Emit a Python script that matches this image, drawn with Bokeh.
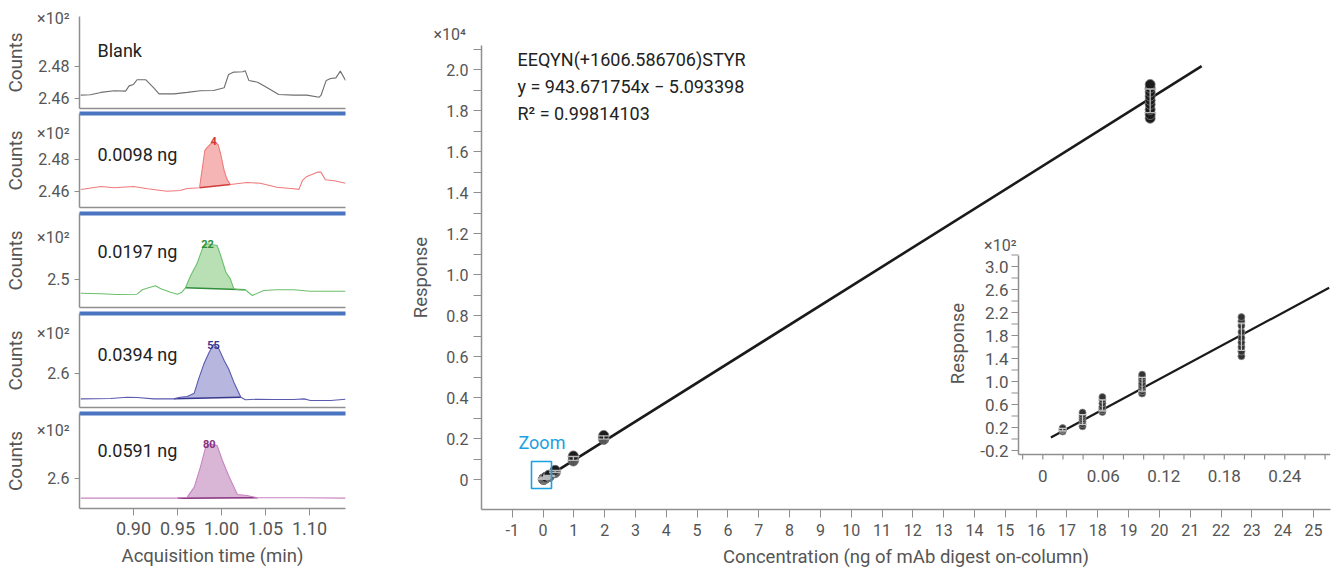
import numpy as np
from bokeh.plotting import figure
from bokeh.models import Range1d, FixedTicker, Label, LinearAxis, BoxAnnotation, Title
from bokeh.layouts import row, column
from bokeh.embed import file_html
from bokeh.resources import INLINE
from bokeh.core.properties import value

FONT = "Roboto"
TXT = "#222222"
GREYTXT = "#555555"
AXC = "#8f8f8f"

# ---------------- chromatogram data (Counts, x10^2) ----------------
time_ticks = [0.90, 0.95, 1.00, 1.05, 1.10]
time_tick_labels = ["0.90", "0.95", "1.00", "1.05", "1.10"]

blank_t = [0.840, 0.851, 0.863, 0.878, 0.891, 0.895, 0.900, 0.904, 0.914, 0.923, 0.929, 0.946, 0.961,
           0.976, 0.991, 1.003, 1.008, 1.014, 1.024, 1.027, 1.031, 1.041, 1.052, 1.065, 1.082, 1.097,
           1.111, 1.113, 1.119, 1.124, 1.130, 1.135, 1.141]
blank_v = [2.4621, 2.4623, 2.4638, 2.4648, 2.4646, 2.4679, 2.4688, 2.4717, 2.4717, 2.4667, 2.4629,
           2.4629, 2.4638, 2.4648, 2.4650, 2.4667, 2.4750, 2.4765, 2.4767, 2.4773, 2.4713, 2.4702,
           2.4667, 2.4625, 2.4621, 2.4621, 2.4608, 2.4619, 2.4713, 2.4725, 2.4729, 2.4771, 2.4713]

ng0098_t = [0.840, 0.863, 0.878, 0.900, 0.916, 0.938, 0.953, 0.961, 0.975, 0.981, 0.984, 0.991, 0.996,
            0.999, 1.003, 1.006, 1.010, 1.029, 1.044, 1.063, 1.082, 1.088, 1.092, 1.097, 1.109, 1.113,
            1.118, 1.128, 1.141]
ng0098_v = [2.4613, 2.4631, 2.4623, 2.4631, 2.4617, 2.4602, 2.4606, 2.4619, 2.4623, 2.4856, 2.4877,
            2.4914, 2.4894, 2.4836, 2.4731, 2.4679, 2.4644, 2.4656, 2.4652, 2.4627, 2.4617, 2.4613,
            2.4669, 2.4694, 2.4721, 2.4721, 2.4673, 2.4667, 2.4652]

ng0197_t = [0.840, 0.863, 0.881, 0.904, 0.910, 0.917, 0.925, 0.931, 0.942, 0.950, 0.955, 0.959, 0.965,
            0.972, 0.979, 0.984, 0.995, 0.999, 1.005, 1.010, 1.014, 1.020, 1.027, 1.035, 1.048, 1.063,
            1.082, 1.101, 1.120, 1.141]
ng0197_v = [2.4817, 2.4809, 2.4800, 2.4804, 2.4863, 2.4889, 2.4916, 2.4876, 2.4831, 2.4804, 2.4831,
            2.4889, 2.5053, 2.5209, 2.5431, 2.5476, 2.5453, 2.5320, 2.5097, 2.5009, 2.4876, 2.4863,
            2.4863, 2.4787, 2.4853, 2.4863, 2.4863, 2.4844, 2.4844, 2.4844]

ng0394_t = [0.840, 0.874, 0.893, 0.904, 0.923, 0.946, 0.953, 0.961, 0.969, 0.974, 0.980, 0.986, 0.991,
            0.997, 1.003, 1.008, 1.014, 1.022, 1.027, 1.041, 1.059, 1.082, 1.094, 1.101, 1.124, 1.141]
ng0394_v = [2.5610, 2.5615, 2.5635, 2.5631, 2.5610, 2.5610, 2.5635, 2.5646, 2.5697, 2.5918, 2.6149,
            2.6328, 2.6446, 2.6379, 2.6200, 2.6072, 2.5867, 2.5635, 2.5595, 2.5605, 2.5600, 2.5600,
            2.5610, 2.5585, 2.5585, 2.5605]

ng0591_t = [0.840, 0.900, 0.950, 0.961, 0.969, 0.976, 0.982, 0.986, 0.995, 1.001, 1.008, 1.018, 1.029,
            1.041, 1.052, 1.090, 1.141]
ng0591_v = [2.5719, 2.5719, 2.5719, 2.5733, 2.5876, 2.6162, 2.6448, 2.6495, 2.6471, 2.6257, 2.6043,
            2.5771, 2.5757, 2.5724, 2.5724, 2.5724, 2.5719]

panel_names = ["Blank", "0.0098 ng", "0.0197 ng", "0.0394 ng", "0.0591 ng"]
peak_windows = [None, (0.975, 1.010), (0.959, 1.027), (0.946, 1.022), (0.950, 1.041)]
peak_labels = [None, "4", "22", "55", "80"]
count_ticks = [[2.46, 2.48], [2.46, 2.48], [2.5], [2.6], [2.6]]
count_tick_labels = [["2.46", "2.48"], ["2.46", "2.48"], ["2.5"], ["2.6"], ["2.6"]]
scale_label_small = "\u00d710\u00b2"
scale_label_main = "\u00d710\u2074"

# ---------------- calibration data ----------------
conc_levels = [0.0197, 0.0394, 0.0591, 0.0985, 0.197, 0.394, 0.985, 1.97, 19.7]
resp_0p0197 = [13, 15, 16, 17, 18, 19]
resp_0p0394 = [22, 26, 30, 34, 38, 42, 46]
resp_0p0591 = [47, 50, 53, 56, 62, 68, 73]
resp_0p0985 = [79, 83, 87, 92, 97, 103, 108, 112]
resp_0p197 = [144, 152, 160, 168, 176, 186, 197, 205, 212]
resp_0p394 = [330, 360, 390, 420, 450]
resp_0p985 = [900, 950, 1000, 1050, 1100, 1150]
resp_1p97 = [1950, 2000, 2050, 2100, 2150]
resp_19p7 = [17620, 17800, 18050, 18300, 18500, 18700, 18900, 19100, 19270]
resp_all = [resp_0p0197, resp_0p0394, resp_0p0591, resp_0p0985, resp_0p197,
            resp_0p394, resp_0p985, resp_1p97, resp_19p7]
n_inset_levels = 5

slope = 943.671754
intercept = -5.093398
fit_x_main = [0.008, 21.37]
fit_x_inset = [0.008, 0.284]

conc_axis_ticks = list(range(-1, 26))
conc_axis_labels = [str(v) for v in conc_axis_ticks]
resp_axis_ticks = [0, 2000, 4000, 6000, 8000, 10000, 12000, 14000, 16000, 18000, 20000]
resp_axis_labels = ["0", "0.2", "0.4", "0.6", "0.8", "1.0", "1.2", "1.4", "1.6", "1.8", "2.0"]
resp_axis_minor = [1000, 3000, 5000, 7000, 9000, 11000, 13000, 15000, 17000, 19000, 21000]

inset_x_ticks = [-0.02, 0.0, 0.02, 0.04, 0.06, 0.08, 0.10, 0.12, 0.14, 0.16, 0.18, 0.20, 0.22, 0.24, 0.26, 0.28]
inset_x_label_vals = [0.0, 0.06, 0.12, 0.18, 0.24]
inset_x_labels = ["0", "0.06", "0.12", "0.18", "0.24"]
inset_y_ticks = [-20, 0, 20, 40, 60, 80, 100, 120, 140, 160, 180, 200, 220, 240, 260, 280, 300, 320]
inset_y_label_vals = [-20, 20, 60, 100, 140, 180, 220, 260, 300]
inset_y_labels = ["-0.2", "0.2", "0.6", "1.0", "1.4", "1.8", "2.2", "2.6", "3.0"]

annot_lines = ["EEQYN(+1606.586706)STYR", "y = 943.671754x \u2212 5.093398", "R\u00b2 = 0.99814103"]

# ---------------- left panels (geometry in page pixels) ----------------
T0, T1 = 0.8386, 1.1409
PANEL_GEOM = [
    dict(top=0, bot=110, ftop=16, fbot=108, ref=2.46, ref_px=98, ppu=1600, x10=18, name=50),
    dict(top=110, bot=210, ftop=113, fbot=207, ref=2.46, ref_px=191, ppu=1600, x10=133, name=154),
    dict(top=210, bot=310, ftop=213, fbot=307, ref=2.5, ref_px=279, ppu=750, x10=237, name=251),
    dict(top=310, bot=410, ftop=313, fbot=407, ref=2.6, ref_px=373, ppu=650, x10=333, name=354),
    dict(top=410, bot=575, ftop=413, fbot=508, ref=2.6, ref_px=478, ppu=700, x10=430, name=450),
]
traces = [(blank_t, blank_v), (ng0098_t, ng0098_v), (ng0197_t, ng0197_v),
          (ng0394_t, ng0394_v), (ng0591_t, ng0591_v)]
line_colors = ["#6e6e6e", "#f07a7a", "#6cc06c", "#5a5ab0", "#c884c0"]
fill_colors = [None, "#f5b5b5", "#b9dfb5", "#b6b6de", "#dab6d6"]
base_colors = [None, "#d23a3a", "#2f8f3a", "#36368f", "#86307e"]
name_x = T0 + 18 / 880.0


def style_axis(ax, size="16px"):
    ax.axis_line_color = AXC
    ax.axis_line_width = 1.5
    ax.major_tick_line_color = AXC
    ax.minor_tick_line_color = AXC
    ax.major_tick_in = 0
    ax.minor_tick_in = 0
    ax.major_label_text_font = FONT
    ax.major_label_text_font_size = size
    ax.major_label_text_color = GREYTXT
    ax.axis_label_text_font = FONT
    ax.axis_label_text_font_style = "normal"
    ax.axis_label_text_color = GREYTXT


panels = []
for i in range(5):
    g = PANEL_GEOM[i]

    def pv(py, g=g):
        return g["ref"] + (g["ref_px"] - py) / g["ppu"]

    y0, y1 = pv(g["fbot"]), pv(g["ftop"])
    p = figure(width=385, height=g["bot"] - g["top"], x_range=Range1d(T0, T1), y_range=Range1d(y0, y1),
               min_border_left=79, min_border_right=40,
               min_border_top=g["ftop"] - g["top"], min_border_bottom=g["bot"] - g["fbot"],
               output_backend="svg", toolbar_location=None)
    p.grid.visible = False
    p.outline_line_color = None
    t = np.array(traces[i][0])
    v = np.array(traces[i][1])
    if peak_windows[i] is not None:
        a, b = peak_windows[i]
        m = (t >= a - 1e-9) & (t <= b + 1e-9)
        p.patch(t[m], v[m], fill_color=fill_colors[i], line_color=None)
        p.segment(x0=[t[m][0]], y0=[v[m][0]], x1=[t[m][-1]], y1=[v[m][-1]],
                  line_color=base_colors[i], line_width=1.5)
        k = int(np.argmax(v[m]))
        p.add_layout(Label(x=t[m][k], y=v[m][k], text=peak_labels[i], text_align="center",
                           text_baseline="middle", text_font=FONT, text_font_size="11px",
                           text_font_style="bold", text_color=base_colors[i]))
    p.line(t, v, line_color=line_colors[i], line_width=1.1)

    # y axis: real ticks drawn as minor ticks, plus a label-only tick carrying the x10^2 factor
    yax = p.yaxis[0]
    style_axis(yax, "16px")
    x10_val = round(pv(g["x10"]), 5)
    yax.ticker = FixedTicker(ticks=count_ticks[i] + [x10_val], minor_ticks=count_ticks[i])
    ov = {tk: lb for tk, lb in zip(count_ticks[i], count_tick_labels[i])}
    ov[x10_val] = scale_label_small
    yax.major_label_overrides = ov
    yax.major_tick_out = 0
    yax.minor_tick_out = 5
    yax.major_label_standoff = 5
    yax.axis_label = "Counts"
    yax.axis_label_text_font_size = "19px"
    yax.axis_label_standoff = 7

    xax = p.xaxis[0]
    style_axis(xax, "18px")
    if i < 4:
        xax.ticker = FixedTicker(ticks=[])
        xax.major_tick_out = 0
        xax.minor_tick_out = 0
        xax.major_label_text_font_size = "0px"
    else:
        xax.ticker = FixedTicker(ticks=time_ticks)
        xax.major_label_overrides = {tk: lb for tk, lb in zip(time_ticks, time_tick_labels)}
        xax.major_tick_out = 7
        xax.minor_tick_out = 0
        xax.major_label_standoff = 6
        xax.axis_label = "Acquisition time (min)"
        xax.axis_label_text_font_size = "18.5px"
        xax.axis_label_standoff = 7
    if i > 0:
        sep = LinearAxis(ticker=FixedTicker(ticks=[]), axis_line_color="#4a74c0", axis_line_width=4,
                         major_tick_out=0, major_tick_in=0, minor_tick_out=0, minor_tick_in=0,
                         major_label_text_font_size="0px")
        p.add_layout(sep, "above")

    p.add_layout(Label(x=name_x, y=pv(g["name"]), text=panel_names[i], text_align="left",
                       text_baseline="middle", text_font=FONT, text_font_size="18px", text_color=TXT))
    panels.append(p)

left = column(*panels)

# ---------------- main calibration plot (geometry in page pixels) ----------------
def mx(px):
    return -1 + (px - 511.7) / 30.82

def my(py):
    return (479 - py) / 0.0205

def ix(px):
    return (px - 1042.3) / 1008.3

def iy(py):
    return (438.5 - py) / 0.575

FL, FR, FT, FB = 481, 1330, 45, 509
main = figure(width=952, height=575, x_range=Range1d(mx(FL), mx(FR)), y_range=Range1d(my(FB), my(FT)),
              min_border_left=96, min_border_right=7, min_border_top=45, min_border_bottom=66,
              output_backend="svg", toolbar_location=None)
main.extra_x_ranges = {"ix": Range1d(ix(FL), ix(FR))}
main.extra_y_ranges = {"iy": Range1d(iy(FB), iy(FT))}
main.grid.visible = False
main.outline_line_color = None

main.add_layout(Title(text=scale_label_main, align="left", offset=-48, standoff=3,
                      text_font=FONT, text_font_size="16px", text_font_style="normal",
                      text_color=GREYTXT), "above")

xa = main.xaxis[0]
style_axis(xa, "16px")
xa.ticker = FixedTicker(ticks=conc_axis_ticks)
xa.major_label_overrides = {tk: lb for tk, lb in zip(conc_axis_ticks, conc_axis_labels)}
xa.major_tick_out = 8
xa.minor_tick_out = 0
xa.major_label_standoff = 6
xa.axis_label = "Concentration (ng of mAb digest on-column)"
xa.axis_label_text_font_size = "18.5px"
xa.axis_label_standoff = 7

ya = main.yaxis[0]
style_axis(ya, "16px")
ya.ticker = FixedTicker(ticks=resp_axis_ticks, minor_ticks=resp_axis_minor)
ya.major_label_overrides = {tk: lb for tk, lb in zip(resp_axis_ticks, resp_axis_labels)}
ya.major_tick_out = 8
ya.minor_tick_out = 8
ya.major_label_standoff = 5
ya.axis_label = "Response"
ya.axis_label_text_font_size = "18.5px"
ya.axis_label_standoff = 11

# fit line
main.line(fit_x_main, [slope * x + intercept for x in fit_x_main], line_color="#1a1a1a", line_width=2.6)

# replicate points with mean +/- sd bars
xs, ys = [], []
for c, r in zip(conc_levels, resp_all):
    xs += [c] * len(r)
    ys += r
means = np.array([np.mean(r) for r in resp_all])
sds = np.array([np.std(r, ddof=1) for r in resp_all])
lo = means - sds
hi = means + sds

main.scatter(xs, ys, size=10, fill_color="#1c1c1c", line_color="#7a7a7a", line_width=0.8)
main.segment(conc_levels, lo, conc_levels, hi, line_color="#b8b8b8", line_width=1.4)
main.scatter(conc_levels, lo, marker="dash", size=12, line_color="#b8b8b8", line_width=1.4)
main.scatter(conc_levels, hi, marker="dash", size=12, line_color="#b8b8b8", line_width=1.4)

# zoom box
main.add_layout(BoxAnnotation(left=mx(531), right=mx(551), bottom=my(488), top=my(461),
                              fill_alpha=0, fill_color=None, line_color="#1ba1e2", line_alpha=1.0,
                              line_width=1.6))
main.text(x=[mx(518)], y=[my(442)], text=["Zoom"], text_align="left", text_baseline="middle",
          text_font=value(FONT), text_font_size="18px", text_color="#1ba1e2")

# equation text
main.text(x=[mx(517)] * 3, y=[my(59), my(86), my(113)], text=annot_lines, text_align="left",
          text_baseline="middle", text_font=value(FONT), text_font_size="18px", text_color=TXT)

# ---------------- inset (drawn with extra ranges) ----------------
IR = dict(x_range_name="ix", y_range_name="iy")
IX_LO, IX_HI = ix(1018), ix(1330)
IY_LO, IY_HI = iy(454), iy(255)
main.segment(x0=[IX_LO, IX_LO], y0=[IY_LO, IY_LO], x1=[IX_LO, IX_HI], y1=[IY_HI, IY_LO],
             line_color=AXC, line_width=1.5, **IR)
ytl = 7 / 1008.3
main.segment(x0=[IX_LO - ytl] * len(inset_y_ticks), y0=inset_y_ticks, x1=[IX_LO] * len(inset_y_ticks),
             y1=inset_y_ticks, line_color=AXC, line_width=1.2, **IR)
xtl = 5 / 0.575
main.segment(x0=inset_x_ticks, y0=[IY_LO] * len(inset_x_ticks), x1=inset_x_ticks,
             y1=[IY_LO - xtl] * len(inset_x_ticks), line_color=AXC, line_width=1.2, **IR)
main.text(x=[IX_LO] * len(inset_y_label_vals), y=inset_y_label_vals, text=inset_y_labels,
          x_offset=-10, text_align="right", text_baseline="middle", text_font=value(FONT),
          text_font_size="17px", text_color=GREYTXT, **IR)
main.text(x=inset_x_label_vals, y=[IY_LO] * len(inset_x_label_vals), text=inset_x_labels,
          y_offset=21, text_align="center", text_baseline="middle", text_font=value(FONT),
          text_font_size="17px", text_color=GREYTXT, **IR)
main.text(x=[ix(957)], y=[iy(343)], text=["Response"], angle=np.pi / 2, text_align="center",
          text_baseline="middle", text_font=value(FONT), text_font_size="18.5px", text_color=GREYTXT, **IR)
main.text(x=[ix(1016)], y=[iy(245)], text=[scale_label_small], text_align="right",
          text_baseline="middle", text_font=value(FONT), text_font_size="16px", text_color=GREYTXT, **IR)

main.line(fit_x_inset, [slope * x + intercept for x in fit_x_inset], line_color="#1a1a1a",
          line_width=2.2, **IR)
ixs, iys = [], []
for c, r in zip(conc_levels[:n_inset_levels], resp_all[:n_inset_levels]):
    ixs += [c] * len(r)
    iys += r
main.scatter(ixs, iys, size=7, fill_color="#333333", line_color="#8a8a8a", line_width=0.8, **IR)
cl = conc_levels[:n_inset_levels]
main.segment(cl, lo[:n_inset_levels], cl, hi[:n_inset_levels], line_color="#c8c8c8", line_width=1.2, **IR)
main.scatter(cl, lo[:n_inset_levels], marker="dash", size=8, line_color="#c8c8c8", line_width=1.2, **IR)
main.scatter(cl, hi[:n_inset_levels], marker="dash", size=8, line_color="#c8c8c8", line_width=1.2, **IR)

layout = row(left, main)
open("out.html", "w").write(file_html(layout, INLINE))
